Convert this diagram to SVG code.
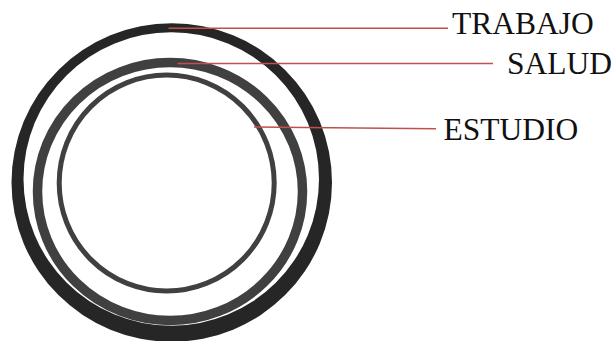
<svg xmlns="http://www.w3.org/2000/svg" width="615" height="341" viewBox="0 0 615 341">
  <style>
    .ring2 { fill: none; stroke: #404040; stroke-width: 9.5; }
    .ring3 { fill: none; stroke: #404040; stroke-width: 5; }
    .outer { fill: #262626; fill-rule: evenodd; }
    .lbl { font-family: "Liberation Serif", "Times New Roman", serif; font-size: 31.5px; fill: #111111; }
    .conn { stroke: #c0504d; stroke-width: 1.6; fill: none; }
  </style>
  <rect width="615" height="341" fill="#ffffff"/>
  <g id="trabajo">
    <path class="outer" d="M11.5,182.5 A160.25,159.2 0 1,0 332,182.5 A160.25,159.2 0 1,0 11.5,182.5 Z M23.5,179 A147.75,146.7 0 1,0 319,179 A147.75,146.7 0 1,0 23.5,179 Z"/>
    <text class="lbl" x="452" y="33.5">TRABAJO</text>
  </g>
  <g id="salud">
    <ellipse class="ring2" cx="170" cy="191.5" rx="132.5" ry="129"/>
    <text class="lbl" x="507" y="74">SALUD</text>
  </g>
  <g id="estudio">
    <ellipse class="ring3" cx="166.7" cy="183" rx="107.5" ry="108"/>
    <text class="lbl" x="443.5" y="140">ESTUDIO</text>
  </g>
  <g id="connectors">
    <line class="conn" x1="168.5" y1="28.3" x2="448" y2="28.3"/>
    <line class="conn" x1="177.5" y1="63.5" x2="493" y2="63.5"/>
    <line class="conn" x1="254" y1="127" x2="436" y2="128.8"/>
  </g>
</svg>
